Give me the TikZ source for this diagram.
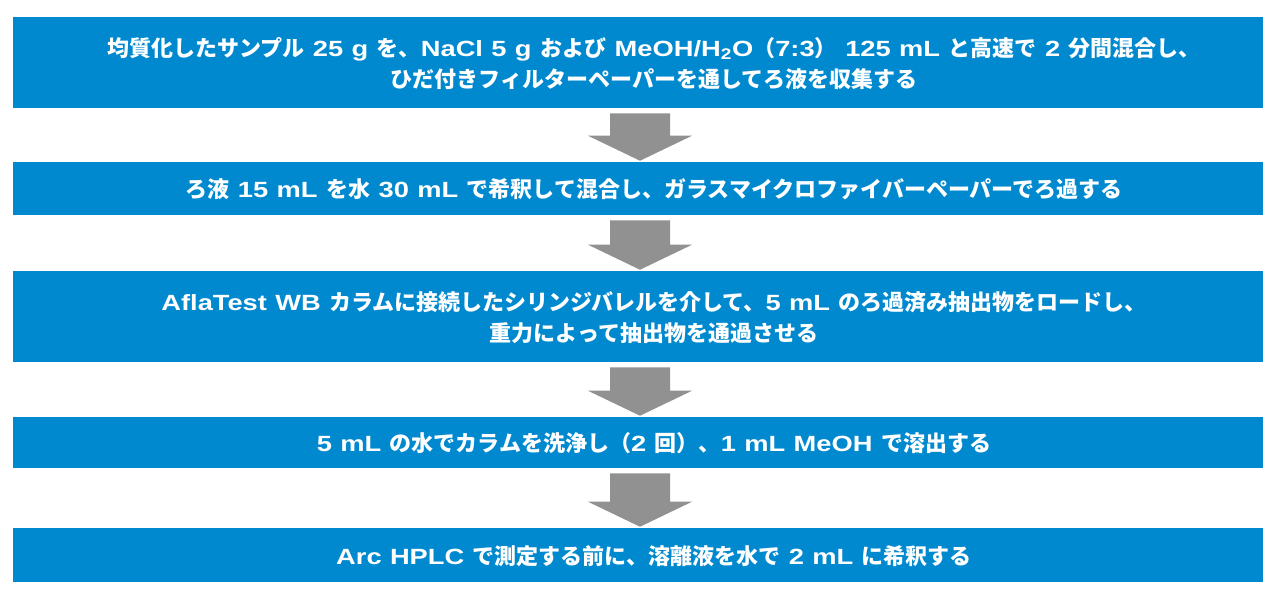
\documentclass[tikz,border=0pt]{standalone}
\usepackage{fontspec}
\usetikzlibrary{calc}
\newfontfamily\jpfont{Noto Sans CJK JP}[WordSpace=1.7]
\newfontfamily\latfont{Liberation Sans}[FakeStretch=1.24, WordSpace=1.1]
\newcommand\la[1]{{\latfont\bfseries #1}}
\definecolor{boxblue}{RGB}{0,137,207}
\definecolor{arrowgray}{RGB}{145,145,145}
\tikzset{
  stepbox/.style={fill=boxblue, draw=none, inner sep=0pt, minimum width=1250*0.75pt},
  steptext/.style={text=white, align=center, inner sep=0pt,
    font=\jpfont\bfseries\fontsize{16.5pt}{23.25pt}\selectfont},
}
\newcommand\flowarrow[2]{%
  \fill[arrowgray] ($(#1.south)+(-28,5)$) -- ($(#1.south)+(32,5)$)
    -- ($(#2.north)+(32,-26)$) -- ($(#2.north)+(54,-26)$)
    -- ($(#2.north)+(2,-1)$) -- ($(#2.north)+(-50,-26)$)
    -- ($(#2.north)+(-28,-26)$) -- cycle;}
\begin{document}
\begin{tikzpicture}[x=0.75pt, y=-0.75pt]
\fill[white] (0,0) rectangle (1280,600);
\useasboundingbox (0,0) rectangle (1280,600);
\node[stepbox, minimum height=91*0.75pt] (b1) at (638,62.5) {};
\node[stepbox, minimum height=53*0.75pt] (b2) at (638,188.5) {};
\node[stepbox, minimum height=91*0.75pt] (b3) at (638,316.5) {};
\node[stepbox, minimum height=51*0.75pt] (b4) at (638,442.5) {};
\node[stepbox, minimum height=54*0.75pt] (b5) at (638,555) {};
\node[steptext] (t1) at ($(b1)+(16,1)$) {均質化したサンプル \la{25 g} を、\la{NaCl 5 g} および \la{MeOH/H\textsubscript{2}O}（\la{7:3}） \la{125 mL} と高速で \la{2} 分間混合し、\\ひだ付きフィルターペーパーを通してろ液を収集する};
\node[steptext] (t2) at ($(b2)+(16,1)$) {ろ液 \la{15 mL} を水 \la{30 mL} で希釈して混合し、ガラスマイクロファイバーペーパーでろ過する};
\node[steptext] (t3) at ($(b3)+(16,1)$) {\la{AflaTest WB} カラムに接続したシリンジバレルを介して、\la{5 mL} のろ過済み抽出物をロードし、\\重力によって抽出物を通過させる};
\node[steptext] (t4) at ($(b4)+(16,1)$) {\la{5 mL} の水でカラムを洗浄し（\la{2} 回）、\la{1 mL MeOH} で溶出する};
\node[steptext] (t5) at ($(b5)+(16,1)$) {\la{Arc HPLC} で測定する前に、溶離液を水で \la{2 mL} に希釈する};
\flowarrow{b1}{b2}
\flowarrow{b2}{b3}
\flowarrow{b3}{b4}
\flowarrow{b4}{b5}
\end{tikzpicture}
\end{document}
